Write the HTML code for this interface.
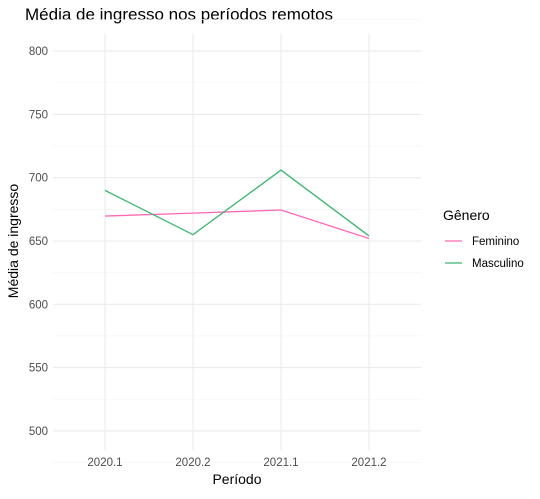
<!DOCTYPE html>
<html><head><meta charset="utf-8"><style>
body{margin:0;background:#fff;font-family:"Liberation Sans",sans-serif;}
</style></head><body>
<svg id="chart" width="540" height="494" xmlns="http://www.w3.org/2000/svg">
<text x="25" y="20" font-size="17" fill="#000">Média de ingresso nos períodos remotos</text>
<g id="grid"></g>
<g id="axes"></g>
<g id="lines"></g>
<text x="237" y="484" font-size="14" text-anchor="middle">Período</text>
<text transform="translate(18,241) rotate(-90)" font-size="14" text-anchor="middle">Média de ingresso</text>
<g>
<text x="443" y="220" font-size="14">Gênero</text>
<g><line x1="445" x2="462" y1="241" y2="241" stroke="#ff69b4" stroke-width="1.3"/><text x="472" y="245" font-size="11.5">Feminino</text></g>
<g><line x1="445" x2="462" y1="263" y2="263" stroke="#3cb371" stroke-width="1.3"/><text x="472" y="267" font-size="11.5">Masculino</text></g>
</g>
</svg>
<script>
const categories=["2020.1","2020.2","2021.1","2021.2"];
const feminino=[669.7,672,674.5,652];
const masculino=[690,655,706,654];
const yTicks=[500,550,600,650,700,750,800];
const NS="http://www.w3.org/2000/svg";
const x=i=>105+i*88;
const y=v=>241-(v-650)*63.3/50;
const grid=document.getElementById('grid'),axes=document.getElementById('axes'),lines=document.getElementById('lines');
function mk(tag,attrs,parent){const e=document.createElementNS(NS,tag);for(const k in attrs)e.setAttribute(k,attrs[k]);parent.appendChild(e);return e;}
for(let v=475;v<=825;v+=50){const l=mk('line',{x1:53,x2:421,y1:y(v),y2:y(v),stroke:'#f3f3f3','stroke-width':0.6},grid);

}
yTicks.forEach(v=>{const l=mk('line',{x1:53,x2:421,y1:y(v),y2:y(v),stroke:'#ebebeb','stroke-width':1.1},grid);


const t=mk('text',{x:48,y:y(v)+4,'font-size':11.5,fill:'#4d4d4d','text-anchor':'end'},axes);t.textContent=v;

});
categories.forEach((c,i)=>{const l=mk('line',{x1:x(i),x2:x(i),y1:33,y2:450,stroke:'#ebebeb','stroke-width':1.1},grid);


const t=mk('text',{x:x(i),y:466,'font-size':11.5,fill:'#4d4d4d','text-anchor':'middle'},axes);t.textContent=c;

});
function series(vals,color,name){const p=mk('polyline',{points:vals.map((v,i)=>x(i)+','+y(v)).join(' '),fill:'none',stroke:color,'stroke-width':1.3},lines);

}
series(feminino,'#ff69b4','line-feminino');
series(masculino,'#3cb371','line-masculino');
</script>
</body></html>
